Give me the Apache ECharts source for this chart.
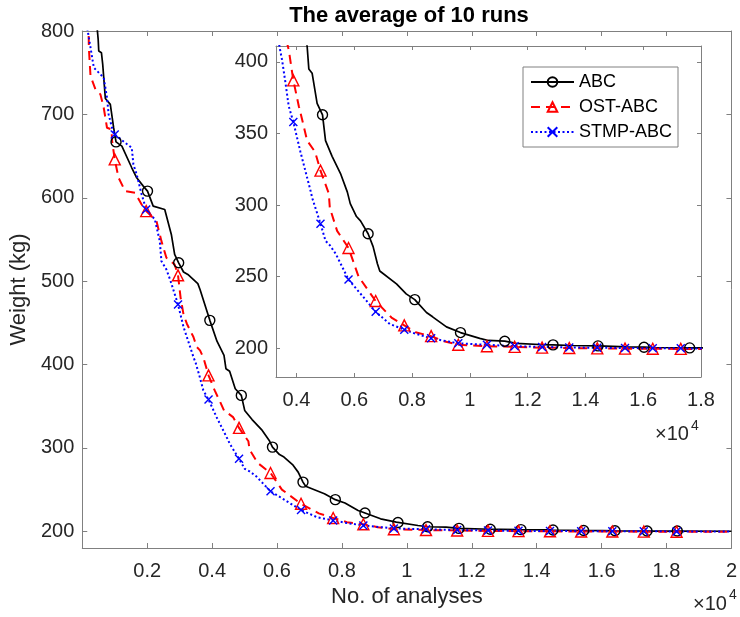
<!DOCTYPE html>
<html>
<head>
<meta charset="utf-8">
<script src="https://cdn.jsdelivr.net/npm/echarts@6/dist/echarts.min.js"></script>
<style>html,body{margin:0;padding:0;background:#fff}#c{width:740px;height:617px}</style>
</head>
<body>
<div id="c"></div>
<script>
// ---- data ----
const seriesNames = ['ABC', 'OST-ABC', 'STMP-ABC'];
const abcLine = [[430,830],[457,804],[490,790],[508,776],[590,774],[630,760],[711,719],[864,712],[966,684],[1040,667],[1220,662],[1525,636],[1677,624],[1880,614],[2010,608],[2185,590],[2541,586],[2744,556],[2846,532],[2970,522],[3120,511],[3252,508],[3560,497],[3628,490],[3930,453],[4150,428],[4367,411],[4426,395],[4540,392],[4713,371],[4900,363],[5004,345],[5232,334],[5523,322],[5760,309],[5860,301],[6076,292],[6215,289],[6478,280],[6651,271],[6800,259],[6882,254],[7460,245],[7796,238],[8093,234],[8498,225],[8710,222],[9190,215],[9675,211],[9726,210.5],[10342,207],[10640,205.5],[11207,205],[11607,203.5],[12570,202.5],[12879,202.4],[13515,202],[14436,201.7],[14503,201.6],[15448,201],[16028,200.8],[16412,200.6],[17399,200.4],[17608,200.3],[18332,200.3],[20000,200.1]];
const ostLine = [[185,830],[203,780],[254,746],[407,730],[559,724],[661,708],[762,684],[900,682],[920,668],[1000,646],[1118,624],[1321,608],[1626,606],[1829,592],[1970,584],[2287,572],[2439,548],[2592,528],[2846,520],[2950,507],[3030,480],[3120,460],[3222,449],[3425,433],[3527,421],[3628,417],[3734,408],[3890,387],[4080,369],[4250,355],[4367,345],[4645,337],[4830,324],[5118,308],[5153,298],[5405,282],[5458,281],[5800,270],[6150,250],[6740,233],[7287,221.5],[7730,216],[8152,211],[8660,208.5],[9100,205],[9600,202.5],[10590,201.5],[11550,201],[12500,200.5],[13440,200.2],[14410,200],[15370,199.8],[16330,199.7],[17300,199.6],[18310,199.5],[20000,199.4]];
const stmpLine = [[140,830],[152,804],[254,780],[356,756],[661,744],[762,720],[813,700],[915,684],[1000,676],[1321,666],[1525,660],[1575,640],[1677,628],[1829,604],[1970,586],[2236,574],[2388,548],[2439,524],[2592,514],[2714,501],[2950,472],[3120,445],[3425,409],[3502,401],[3620,385],[3730,369],[3890,358],[4137,337],[4485,310],[4543,305],[4830,287],[5004,275],[5152,272],[5357,266],[5800,248],[6305,236],[6740,225.5],[7228,217],[7730,213],[8150,210],[8660,207],[9600,203.5],[10590,202.5],[11550,201.5],[12500,201],[13440,200.6],[14410,200.4],[15370,200.2],[16330,200.1],[17300,200],[18310,199.9],[20000,199.8]];
// x positions that carry a marker
const abcMainMarkX = [1040,2010,2970,3930,4900,5860,6800,7796,8710,9726,10640,11607,12570,13515,14503,15448,16412,17399,18332];
const abcInsetMarkX = [4900,6478,8093,9675,11207,12879,14436,16028,17608];
const ostMarkX = [1000,1970,2950,3890,4830,5800,6740,7730,8660,9600,10590,11550,12500,13440,14410,15370,16330,17300,18310];
const stmpMarkX = [1000,1970,2950,3890,4830,5800,6740,7730,8660,9600,10590,11550,12500,13440,14410,15370,16330,17300,18310];
// ticks
const mainXTicks = [0,2000,4000,6000,8000,10000,12000,14000,16000,18000,20000];
const mainYTicks = [200,300,400,500,600,700,800];
const insetXTicks = [4000,6000,8000,10000,12000,14000,16000,18000];
const insetYTicks = [200,250,300,350,400];

// ---- chart ----
const FONT = 'Liberation Sans';
const AX = '#808080', TX = '#262626';
function withMarks(line, marks) {
  return line.map(p => marks.includes(p[0]) ? {value: p} : {value: p, symbol: 'none'});
}
const styles = [
  {color: '#000000', type: 'solid', width: 1.7, symbol: 'circle', size: 10},
  {color: '#ff0000', type: [9, 6], width: 2, symbol: 'triangle', size: 11},
  {color: '#0000ff', type: [2, 2.5], width: 2, symbol: 'path://M0,0L10,10M10,0L0,10', size: 8}
];
function mk(i, line, marks, xi, yi, z) {
  const s = styles[i];
  return {
    type: 'line', name: seriesNames[i], xAxisIndex: xi, yAxisIndex: yi, z: z,
    data: withMarks(line, marks), showSymbol: true, showAllSymbol: true,
    symbol: s.symbol, symbolSize: s.size, clip: true,
    lineStyle: {color: s.color, width: s.width, type: s.type},
    itemStyle: {color: 'rgba(255,255,255,0)', borderColor: s.color, borderWidth: 1.4},
    emphasis: {disabled: true}, silent: true
  };
}
function xAx(grid, min, max, ticks, pos, labels, name, z, tl) {
  return {
    type: 'value', gridIndex: grid, min: min, max: max, position: pos, z: z,
    axisLine: {show: true, onZero: false, lineStyle: {color: AX, width: 1}},
    axisTick: {show: true, inside: true, length: tl, customValues: ticks, lineStyle: {color: AX}},
    axisLabel: {show: labels, customValues: ticks, fontSize: 20, color: TX, fontFamily: FONT, margin: 13,
      formatter: v => v === 0 ? '' : String(+(v / 10000).toFixed(1))},
    splitLine: {show: false},
    name: name, nameLocation: 'middle', nameGap: 38,
    nameTextStyle: {fontSize: 22, color: TX, fontFamily: FONT}
  };
}
function yAx(grid, min, max, ticks, pos, labels, name, z, tl) {
  return {
    type: 'value', gridIndex: grid, min: min, max: max, position: pos, z: z,
    axisLine: {show: true, onZero: false, lineStyle: {color: AX, width: 1}},
    axisTick: {show: true, inside: true, length: tl, customValues: ticks, lineStyle: {color: AX}},
    axisLabel: {show: labels, customValues: ticks, fontSize: 20, color: TX, fontFamily: FONT, margin: 8},
    splitLine: {show: false},
    name: name, nameLocation: 'middle', nameGap: 42, nameRotate: 90,
    nameTextStyle: {fontSize: 22, color: TX, fontFamily: FONT}
  };
}
const option = {
  animation: false,
  textStyle: {fontFamily: FONT},
  grid: [
    {left: 81, top: 31, width: 656, height: 517, show: false},
    {left: 276, top: 46, width: 425, height: 331, show: true, backgroundColor: '#ffffff', borderWidth: 0, z: 10}
  ],
  xAxis: [
    xAx(0, 0, 20000, mainXTicks, 'bottom', true, 'No. of analyses', 1, 5),
    xAx(0, 0, 20000, mainXTicks, 'top', false, '', 1, 5),
    xAx(1, 3290, 18000, insetXTicks, 'bottom', true, '', 11, 4),
    xAx(1, 3290, 18000, insetXTicks, 'top', false, '', 11, 4)
  ],
  yAxis: [
    yAx(0, 180, 800, mainYTicks, 'left', true, 'Weight (kg)', 1, 5),
    yAx(0, 180, 800, mainYTicks, 'right', false, '', 1, 5),
    yAx(1, 180, 411, insetYTicks, 'left', true, '', 11, 4),
    yAx(1, 180, 411, insetYTicks, 'right', false, '', 11, 4)
  ],
  legend: {
    data: seriesNames, orient: 'vertical', left: 523, top: 67, z: 30,
    backgroundColor: '#ffffff', borderColor: '#808080', borderWidth: 1, borderRadius: 0,
    padding: [6, 6, 6, 7], itemGap: 7, itemWidth: 43, itemHeight: 12,
    textStyle: {fontSize: 18, color: '#000', fontFamily: FONT}, selectedMode: false
  },
  series: [
    mk(0, abcLine, abcMainMarkX, 0, 0, 2),
    mk(1, ostLine, ostMarkX, 0, 0, 2),
    mk(2, stmpLine, stmpMarkX, 0, 0, 2),
    mk(0, abcLine, abcInsetMarkX, 2, 2, 12),
    mk(1, ostLine, ostMarkX, 2, 2, 12),
    mk(2, stmpLine, stmpMarkX, 2, 2, 12)
  ],
  graphic: [
    {type: 'text', x: 409, y: 5, z: 40, style: {text: 'The average of 10 runs', fontSize: 22, fontWeight: 'bold', fontFamily: FONT, fill: '#000', align: 'center', verticalAlign: 'top'}},
    {type: 'text', x: 693, y: 604, z: 40, style: {text: '×10', fontSize: 20, fontFamily: FONT, fill: TX, align: 'left', verticalAlign: 'middle'}},
    {type: 'text', x: 729, y: 595, z: 40, style: {text: '4', fontSize: 14, fontFamily: FONT, fill: TX, align: 'left', verticalAlign: 'middle'}},
    {type: 'text', x: 655, y: 434, z: 40, style: {text: '×10', fontSize: 20, fontFamily: FONT, fill: TX, align: 'left', verticalAlign: 'middle'}},
    {type: 'text', x: 691, y: 426, z: 40, style: {text: '4', fontSize: 14, fontFamily: FONT, fill: TX, align: 'left', verticalAlign: 'middle'}}
  ]
};
const chart = echarts.init(document.getElementById('c'), null, {renderer: 'canvas'});
chart.setOption(option);
</script>
</body>
</html>
